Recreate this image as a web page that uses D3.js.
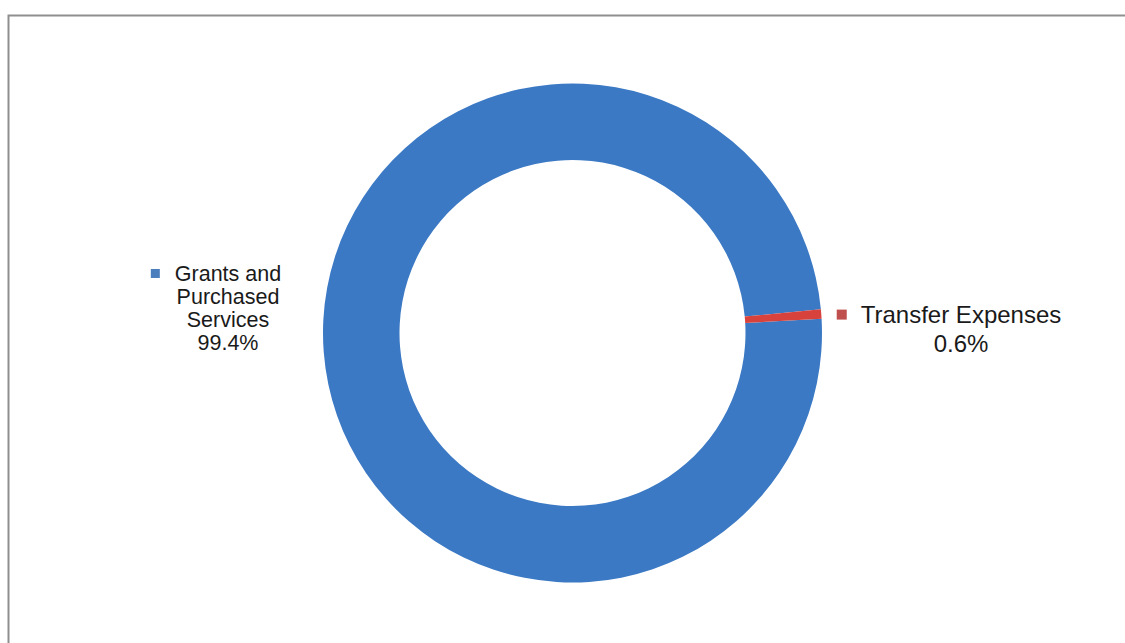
<!DOCTYPE html>
<html>
<head>
<meta charset="utf-8">
<script src="https://cdn.jsdelivr.net/npm/d3@7"></script>
<style>
  html, body { margin: 0; padding: 0; background: #ffffff; }
  svg { display: block; }
</style>
</head>
<body>
<svg id="chart" width="1125" height="643"></svg>
<script>
// ---- data ----
const categories = ["Grants and Purchased Services", "Transfer Expenses"];
const values = [99.4, 0.6];
const labelLines = [["Grants and", "Purchased", "Services", "99.4%"], ["Transfer Expenses", "0.6%"]];
const colors = ["#3b79c4", "#d8423c"];
const markerColors = ["#4a7ebd", "#c0504d"];

// ---- layout ----
const W = 1125, H = 643;
const cx = 572.5, cy = 333;
const outerR = 249.5, innerR = 173;
const startDeg = 86.7;

const svg = d3.select("#chart");
svg.append("rect").attr("width", W).attr("height", H).attr("fill", "#ffffff");

// frame
svg.append("rect")
  .attr("x", 8.5).attr("y", 15.5)
  .attr("width", W + 20).attr("height", H + 20)
  .attr("fill", "none").attr("stroke", "#8f8f8f").attr("stroke-width", 2);

const pie = d3.pie().sort(null).value(d => d)
  .startAngle(startDeg * Math.PI / 180)
  .endAngle(startDeg * Math.PI / 180 + 2 * Math.PI);
const arc = d3.arc().innerRadius(innerR).outerRadius(outerR);

const g = svg.append("g").attr("transform", `translate(${cx},${cy})`);
g.selectAll("path").data(pie(values)).join("path")
  .attr("d", arc)
  .attr("fill", (d, i) => colors[i]);

// labels
const labelStyle = [
  { x: 228, y: 281, size: 21.5, lineH: 23, gap: 15, marker: 9 },
  { x: 961, y: 323, size: 24, lineH: 29, gap: 14, marker: 10 }
];

labelLines.forEach((lines, i) => {
  const s = labelStyle[i];
  const lg = svg.append("g");
  const t = lg.append("text")
    .attr("font-family", "Arial, 'Liberation Sans', sans-serif")
    .attr("font-size", s.size)
    .attr("fill", "#1a1a1a")
    .attr("text-anchor", "middle");
  lines.forEach((ln, j) => {
    t.append("tspan").attr("x", s.x).attr("y", s.y + j * s.lineH).text(ln);
  });
  const first = t.select("tspan").node();
  const bb = first.getBBox();
  lg.append("rect")
    .attr("x", bb.x - s.marker - s.gap)
    .attr("y", s.y - s.size * 0.35 - s.marker / 2)
    .attr("width", s.marker).attr("height", s.marker)
    .attr("fill", markerColors[i]);
});
</script>
</body>
</html>
